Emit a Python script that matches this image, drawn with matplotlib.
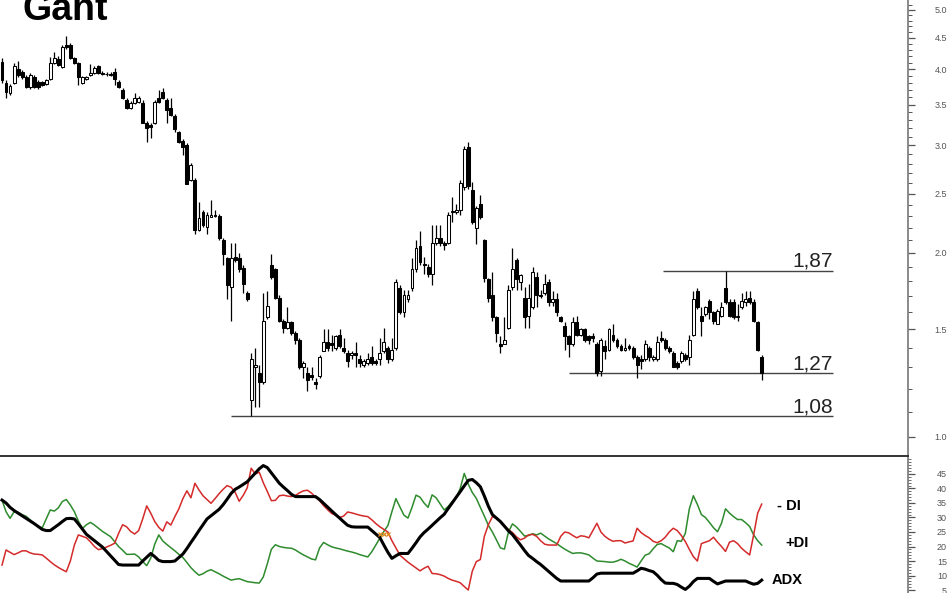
import matplotlib
matplotlib.use('Agg')
import matplotlib.pyplot as plt
import numpy as np
from matplotlib.ticker import FixedLocator, FuncFormatter, NullFormatter

plt.rcParams['font.family'] = ['Liberation Sans', 'DejaVu Sans']

title = 'Gant'

opens = [
    4.11, 3.80, 3.66, 3.80, 4.00, 3.95, 3.88, 3.74, 3.88, 3.81,
    3.81, 3.78, 3.85, 4.09, 4.15, 4.03, 4.38, 4.38, 4.17, 4.09,
    3.79, 3.85, 3.91, 3.94, 4.05, 3.94, 3.92, 3.92, 3.95, 3.81,
    3.70, 3.56, 3.45, 3.52, 3.54, 3.52, 3.26, 3.24, 3.27, 3.59,
    3.67, 3.56, 3.45, 3.35, 3.15, 3.05, 3.00, 2.63, 2.63, 2.18,
    2.33, 2.21, 2.29, 2.31, 2.30, 2.10, 1.96, 1.76, 1.97, 1.96,
    1.89, 1.72, 1.15, 1.30, 1.27, 1.23, 1.57, 1.91, 1.88, 1.69,
    1.55, 1.51, 1.54, 1.48, 1.44, 1.30, 1.27, 1.265, 1.23, 1.26,
    1.38, 1.43, 1.425, 1.40, 1.47, 1.40, 1.37, 1.36, 1.37, 1.34,
    1.31, 1.32, 1.35, 1.33, 1.34, 1.38, 1.40, 1.34, 1.40, 1.75,
    1.60, 1.68, 1.75, 1.88, 2.05, 1.92, 1.90, 1.85, 2.08, 2.12,
    2.08, 2.08, 2.335, 2.33, 2.35, 2.56, 2.98, 2.54, 2.20, 2.41,
    2.10, 1.81, 1.71, 1.57, 1.42, 1.42, 1.51, 1.76, 1.95, 1.79,
    1.69, 1.58, 1.63, 1.83, 1.71, 1.72, 1.79, 1.66, 1.68, 1.57,
    1.52, 1.46, 1.42, 1.54, 1.47, 1.50, 1.46, 1.46, 1.42, 1.28,
    1.41, 1.39, 1.47, 1.44, 1.41, 1.39, 1.41, 1.40, 1.35, 1.34,
    1.34, 1.40, 1.34, 1.34, 1.45, 1.44, 1.40, 1.37, 1.32, 1.33,
    1.36, 1.35, 1.47, 1.73, 1.58, 1.59, 1.67, 1.60, 1.53, 1.58,
    1.75, 1.66, 1.66, 1.57, 1.63, 1.66, 1.69, 1.66, 1.54, 1.35,
]
highs = [
    4.17, 3.84, 3.78, 4.09, 4.12, 3.98, 3.91, 3.94, 3.91, 3.84,
    3.82, 3.85, 4.19, 4.26, 4.20, 4.38, 4.53, 4.41, 4.19, 4.11,
    3.89, 3.89, 4.08, 4.05, 4.06, 3.97, 3.95, 3.95, 4.01, 3.84,
    3.72, 3.59, 3.55, 3.65, 3.61, 3.56, 3.29, 3.26, 3.56, 3.70,
    3.72, 3.59, 3.59, 3.38, 3.17, 3.07, 3.03, 2.81, 2.65, 2.42,
    2.35, 2.33, 2.44, 2.35, 2.32, 2.12, 1.97, 2.08, 2.08, 2.00,
    1.91, 1.73, 1.37, 1.40, 1.31, 1.72, 1.73, 1.99, 1.89, 1.71,
    1.56, 1.63, 1.55, 1.49, 1.45, 1.33, 1.30, 1.30, 1.25, 1.36,
    1.50, 1.50, 1.47, 1.47, 1.50, 1.45, 1.39, 1.38, 1.43, 1.36,
    1.34, 1.37, 1.41, 1.34, 1.45, 1.51, 1.41, 1.45, 1.81, 1.77,
    1.74, 1.74, 1.96, 2.10, 2.17, 1.97, 1.92, 2.22, 2.22, 2.22,
    2.09, 2.33, 2.47, 2.41, 2.63, 2.99, 3.04, 2.61, 2.39, 2.49,
    2.11, 1.82, 1.86, 1.58, 1.46, 1.57, 1.77, 2.04, 1.96, 1.85,
    1.76, 1.78, 1.90, 1.86, 1.74, 1.85, 1.81, 1.73, 1.72, 1.58,
    1.54, 1.47, 1.57, 1.58, 1.51, 1.51, 1.47, 1.48, 1.43, 1.45,
    1.44, 1.51, 1.53, 1.45, 1.42, 1.45, 1.42, 1.41, 1.36, 1.36,
    1.44, 1.41, 1.36, 1.46, 1.49, 1.45, 1.41, 1.38, 1.33, 1.38,
    1.37, 1.47, 1.73, 1.75, 1.63, 1.64, 1.68, 1.61, 1.62, 1.66,
    1.87, 1.68, 1.68, 1.65, 1.72, 1.73, 1.73, 1.68, 1.55, 1.36,
]
lows = [
    3.79, 3.59, 3.63, 3.78, 3.88, 3.85, 3.72, 3.71, 3.72, 3.71,
    3.75, 3.77, 3.84, 4.08, 4.05, 4.01, 4.31, 4.15, 4.08, 3.77,
    3.78, 3.84, 3.89, 3.92, 3.92, 3.91, 3.89, 3.89, 3.77, 3.72,
    3.57, 3.44, 3.44, 3.51, 3.52, 3.26, 3.04, 3.09, 3.25, 3.52,
    3.57, 3.27, 3.35, 3.16, 3.03, 2.89, 2.59, 2.62, 2.15, 2.17,
    2.21, 2.15, 2.29, 2.29, 2.10, 1.91, 1.68, 1.55, 1.93, 1.86,
    1.72, 1.67, 1.08, 1.12, 1.12, 1.22, 1.56, 1.81, 1.68, 1.54,
    1.48, 1.50, 1.47, 1.42, 1.29, 1.25, 1.19, 1.24, 1.20, 1.25,
    1.38, 1.38, 1.38, 1.39, 1.40, 1.37, 1.30, 1.34, 1.30, 1.30,
    1.30, 1.31, 1.31, 1.31, 1.31, 1.37, 1.32, 1.33, 1.39, 1.59,
    1.57, 1.66, 1.73, 1.86, 1.91, 1.85, 1.83, 1.77, 2.06, 2.05,
    2.02, 2.07, 2.25, 2.32, 2.31, 2.54, 2.55, 2.23, 2.07, 2.27,
    1.79, 1.66, 1.55, 1.43, 1.37, 1.42, 1.50, 1.74, 1.74, 1.74,
    1.51, 1.51, 1.62, 1.63, 1.69, 1.71, 1.64, 1.64, 1.58, 1.54,
    1.39, 1.35, 1.41, 1.46, 1.46, 1.43, 1.42, 1.43, 1.26, 1.26,
    1.34, 1.38, 1.43, 1.40, 1.38, 1.38, 1.39, 1.34, 1.25, 1.29,
    1.33, 1.33, 1.33, 1.33, 1.43, 1.39, 1.37, 1.30, 1.29, 1.32,
    1.33, 1.31, 1.46, 1.62, 1.46, 1.58, 1.56, 1.53, 1.53, 1.57,
    1.65, 1.57, 1.56, 1.55, 1.62, 1.64, 1.65, 1.54, 1.38, 1.24,
]
closes = [
    3.84, 3.67, 3.75, 4.05, 3.91, 3.88, 3.74, 3.91, 3.74, 3.74,
    3.77, 3.84, 4.09, 4.17, 4.06, 4.34, 4.34, 4.17, 4.09, 3.88,
    3.88, 3.88, 3.94, 4.01, 3.94, 3.93, 3.92, 3.91, 3.86, 3.74,
    3.59, 3.45, 3.52, 3.59, 3.59, 3.27, 3.20, 3.21, 3.54, 3.54,
    3.59, 3.43, 3.36, 3.19, 3.04, 2.98, 2.59, 2.79, 2.18, 2.28,
    2.22, 2.31, 2.31, 2.30, 2.12, 1.99, 1.77, 1.96, 1.95, 1.88,
    1.78, 1.68, 1.34, 1.31, 1.23, 1.55, 1.64, 1.83, 1.69, 1.55,
    1.51, 1.54, 1.48, 1.44, 1.30, 1.32, 1.24, 1.255, 1.22, 1.35,
    1.43, 1.40, 1.415, 1.46, 1.41, 1.38, 1.33, 1.37, 1.36, 1.32,
    1.33, 1.34, 1.32, 1.32, 1.37, 1.43, 1.34, 1.39, 1.79, 1.60,
    1.71, 1.71, 1.88, 2.04, 1.93, 1.91, 1.85, 2.08, 2.12, 2.08,
    2.06, 2.31, 2.345, 2.35, 2.60, 2.96, 2.57, 2.25, 2.37, 2.29,
    1.82, 1.69, 1.57, 1.48, 1.41, 1.44, 1.74, 1.88, 1.81, 1.84,
    1.57, 1.69, 1.86, 1.71, 1.70, 1.78, 1.66, 1.68, 1.60, 1.55,
    1.46, 1.42, 1.54, 1.47, 1.50, 1.44, 1.44, 1.45, 1.27, 1.44,
    1.38, 1.50, 1.44, 1.41, 1.39, 1.40, 1.40, 1.35, 1.31, 1.33,
    1.42, 1.35, 1.35, 1.43, 1.44, 1.40, 1.38, 1.30, 1.30, 1.37,
    1.34, 1.44, 1.68, 1.63, 1.55, 1.63, 1.60, 1.55, 1.61, 1.63,
    1.66, 1.58, 1.57, 1.58, 1.67, 1.68, 1.66, 1.55, 1.39, 1.27,
]

adx = [
    36.0, 35.0, 33.5, 32.4, 31.5, 30.6, 29.7, 28.8, 27.9, 26.9,
    25.9, 25.5, 25.5, 26.5, 27.5, 28.6, 29.6, 29.7, 29.5, 27.8,
    26.0, 24.2, 23.1, 22.0, 20.9, 19.8, 18.3, 16.8, 15.3, 13.8,
    13.6, 13.6, 13.6, 13.6, 13.6, 15.0, 16.3, 17.6, 16.5, 15.2,
    14.8, 14.8, 14.8, 15.0, 16.2, 17.4, 19.3, 21.4, 23.4, 25.5,
    27.5, 29.5, 30.6, 31.7, 32.8, 34.4, 36.3, 38.3, 39.7, 40.5,
    41.4, 42.3, 43.8, 45.3, 46.8, 47.9, 47.2, 45.4, 43.6, 41.8,
    40.5, 39.3, 38.0, 37.2, 37.2, 37.2, 37.2, 37.2, 37.2, 36.2,
    34.9, 33.6, 32.3, 31.0, 29.8, 28.5, 27.3, 26.8, 26.7, 26.7,
    26.7, 26.7, 25.5, 24.3, 23.1, 20.5, 18.0, 15.9, 16.8, 17.6,
    17.6, 17.6, 19.4, 21.3, 23.3, 24.8, 26.0, 27.3, 28.6, 29.9,
    31.1, 33.1, 35.0, 37.0, 38.9, 40.9, 42.8, 43.1, 42.0, 40.6,
    37.4, 33.9, 31.0, 29.8, 28.6, 27.0, 25.4, 24.1, 22.3, 20.5,
    18.6, 16.9, 15.9, 14.8, 13.8, 12.6, 11.4, 10.2, 9.0, 8.1,
    8.1, 8.1, 8.1, 8.1, 8.1, 8.1, 8.1, 9.2, 10.5, 10.8,
    10.8, 10.8, 10.8, 10.8, 10.8, 10.8, 10.8, 10.8, 11.6, 12.5,
    12.2, 11.7, 11.3, 10.1, 8.6, 7.4, 7.3, 7.3, 6.9, 6.0,
    5.2, 6.3, 7.9, 9.0, 9.0, 9.0, 9.0, 8.0, 7.1, 7.6,
    8.1, 8.1, 8.1, 8.1, 8.1, 8.1, 7.5, 7.0, 7.3, 8.4,
]
minus_di = [
    13.6, 18.8, 18.0, 17.2, 17.8, 18.5, 18.5, 17.8, 17.4, 17.3,
    17.1, 16.0, 14.8, 13.7, 12.8, 12.0, 11.3, 15.0, 20.5, 24.0,
    23.5, 23.0, 21.6, 20.0, 18.9, 19.3, 19.8, 20.4, 21.1, 24.5,
    27.5, 26.8, 25.2, 24.3, 25.5, 29.5, 34.0, 31.5, 28.6, 26.6,
    25.3, 28.5, 27.4, 30.3, 33.0, 36.5, 39.2, 36.8, 41.8, 39.5,
    37.5, 36.2, 34.9, 36.5, 38.2, 39.7, 41.0, 40.4, 38.7, 35.6,
    37.6, 40.2, 47.0, 45.0, 45.6, 42.0, 39.0, 35.8, 35.9, 37.5,
    37.7, 37.4, 37.2, 37.6, 38.5, 39.2, 39.4, 38.4, 37.0, 35.8,
    34.1, 32.7, 31.4, 30.8, 30.0, 30.5, 31.9, 31.6, 31.2, 30.8,
    30.5, 30.3, 29.2, 27.9, 26.8, 25.9, 25.0, 22.0, 19.5, 17.0,
    15.8, 14.6, 13.6, 12.6, 11.6, 12.5, 13.2, 10.7, 10.6, 10.3,
    9.8, 9.0, 8.4, 8.0, 7.5, 6.2, 5.0, 11.5, 14.8, 15.5,
    23.5, 27.5, 30.3, 29.8, 28.5, 27.0, 25.8, 24.8, 23.3, 22.3,
    22.9, 24.0, 24.2, 23.5, 22.0, 20.8, 20.5, 20.5, 20.5, 23.5,
    25.0, 24.7, 23.8, 23.0, 23.7, 23.5, 23.0, 25.5, 28.0, 25.0,
    23.5, 22.5, 21.8, 22.0, 22.0, 21.2, 21.6, 21.9, 26.3, 24.8,
    23.8, 23.0, 21.8, 21.3, 22.0, 23.2, 25.0, 26.3, 25.5, 23.8,
    21.7, 19.0, 16.5, 15.0, 21.0, 21.5, 22.0, 23.2, 21.5, 20.0,
    18.3, 21.5, 22.0, 21.0, 19.4, 18.2, 17.1, 24.0, 31.5, 34.6,
]
plus_di = [
    36.0, 32.0, 29.7, 32.0, 31.8, 31.0, 30.4, 29.2, 28.0, 27.0,
    26.4, 29.5, 32.6, 32.2, 33.3, 35.5, 36.2, 34.3, 32.0, 28.8,
    26.2, 27.5, 28.3, 27.4, 26.3, 25.2, 24.3, 23.4, 21.7, 20.0,
    18.7, 17.3, 17.3, 17.4, 16.4, 14.8, 13.4, 16.0, 20.8, 24.0,
    21.9, 20.7, 19.6, 18.5, 17.3, 16.2, 14.5, 12.7, 11.3, 10.1,
    10.6, 11.5, 12.0, 11.3, 10.6, 9.8, 9.1, 8.4, 8.7, 8.9,
    8.4, 7.9, 7.7, 7.5, 7.4, 9.5, 14.0, 19.0, 20.6, 20.0,
    19.7, 19.5, 19.4, 18.8, 17.9, 17.1, 16.4, 15.7, 15.4, 19.5,
    21.4, 20.6, 19.9, 19.5, 19.2, 18.8, 18.4, 18.1, 17.7, 17.2,
    16.8, 16.4, 18.2, 20.5, 22.9, 25.2, 27.2, 32.0, 36.5, 33.6,
    30.8, 29.8, 33.5, 37.7, 37.0, 35.0, 33.5, 37.8, 36.8, 34.7,
    32.6, 33.8, 35.5, 36.8, 40.0, 45.2, 41.5, 38.6, 36.6, 33.5,
    30.5, 27.3, 25.0, 22.3, 19.5, 19.1, 25.0, 27.8, 26.7, 25.2,
    23.6, 23.8, 24.4, 24.0, 24.6, 23.6, 22.6, 21.8, 21.0, 20.0,
    19.1, 18.3, 17.6, 17.8, 17.8, 17.5, 17.1, 16.0, 15.0, 14.9,
    14.8, 14.6, 14.6, 15.0, 15.6, 15.0, 14.2, 13.6, 12.9, 15.0,
    17.0, 17.5, 19.2, 20.7, 21.0, 20.2, 19.5, 18.2, 22.0, 21.8,
    24.5, 33.0, 37.5, 34.5, 31.0, 30.0, 28.3, 26.5, 25.1, 28.0,
    33.0, 31.5, 30.3, 29.3, 29.3, 28.2, 26.9, 24.0, 22.0, 20.5,
]

cross_idx = [94, 95, 96]
cross_val = [24.4, 24.4, 24.4]

level_values = [1.87, 1.27, 1.08]
level_labels = ['1,87', '1,27', '1,08']
level_starts = [164.5, 141.0, 57.0]
level_end = 206.7

price_ticks = [1.0, 1.5, 2.0, 2.5, 3.0, 3.5, 4.0, 4.5, 5.0]
adx_ticks = [5, 10, 15, 20, 25, 30, 35, 40, 45]
line_names = ['- DI', '+DI', 'ADX']

W, H = 948, 593
fig = plt.figure(figsize=(W / 100, H / 100), dpi=100)
ax = fig.add_axes([0, 138 / H, 908 / W, 455 / H])
ax2 = fig.add_axes([0, 0, 908 / W, 137 / H])

o = np.array(opens)
h = np.array(highs)
l = np.array(lows)
c = np.array(closes)
n = len(c)
idx = np.arange(n)

ax.set_yscale('log')
ax.set_ylim(0.934, 5.19)
xl = (-0.5, 225.4)
ax.set_xlim(*xl)
ax2.set_xlim(*xl)

ax.vlines(idx, l, h, color='black', linewidth=0.9, zorder=2)
bot = np.minimum(o, c)
top = np.maximum(o, c)
hgt = np.maximum(top - bot, 0.004)
up = c > o
ax.bar(idx[up], hgt[up], bottom=bot[up], width=0.72, facecolor='white',
       edgecolor='black', linewidth=0.75, zorder=3)
ax.bar(idx[~up], hgt[~up], bottom=bot[~up], width=0.72, facecolor='black',
       edgecolor='black', linewidth=0.75, zorder=3)

for v, lab, s in zip(level_values, level_labels, level_starts):
    ax.hlines(v, s, level_end, color='#444444', linewidth=1.0, zorder=1)
    ax.text(level_end, v * np.exp(4 / 265.5), lab, ha='right', va='baseline',
            fontsize=15, color='#222222')

fig.text(22 / W, 1 - 20 / H, title, fontsize=27, fontweight='bold',
         va='baseline', ha='left', color='black')

# price axis
for sp in ['top', 'left', 'bottom']:
    ax.spines[sp].set_visible(False)
ax.spines['right'].set_color('#777777')
ax.spines['right'].set_linewidth(1.2)
ax.set_xticks([])
ax.yaxis.tick_right()
ax.yaxis.set_major_locator(FixedLocator(price_ticks))
ax.yaxis.set_major_formatter(FuncFormatter(lambda v, p: f'{v:.1f}'))
ax.yaxis.set_minor_locator(FixedLocator(np.round(np.arange(1.0, 5.25, 0.1), 2)))
ax.yaxis.set_minor_formatter(NullFormatter())
ax.tick_params(axis='y', which='major', length=5, width=0.9, color='#555555',
               labelsize=6.5, labelcolor='#555555', pad=23)
ax.tick_params(axis='y', which='minor', length=3, width=0.7, color='#555555')
for t in ax.yaxis.get_major_ticks(len(price_ticks)):
    t.label2.set_horizontalalignment('right')

# indicator panel
ax2.plot(idx, plus_di, color='#2e8b2e', linewidth=1.1, zorder=2)
ax2.plot(idx, minus_di, color='#d42a2a', linewidth=1.1, zorder=2)
ax2.plot(idx, adx, color='black', linewidth=2.2, zorder=3)
ax2.plot(cross_idx, cross_val, linestyle='none', marker='x', markersize=3.5,
         markeredgewidth=0.9, color='#e08a1e', zorder=4)
ax2.set_ylim(3.97, 51.2)
for sp in ['left', 'bottom']:
    ax2.spines[sp].set_visible(False)
ax2.spines['top'].set_color('#333333')
ax2.spines['top'].set_linewidth(1.4)
ax2.spines['right'].set_color('#777777')
ax2.spines['right'].set_linewidth(1.2)
ax2.set_xticks([])
ax2.yaxis.tick_right()
ax2.yaxis.set_major_locator(FixedLocator(adx_ticks))
ax2.yaxis.set_minor_locator(FixedLocator(np.arange(4, 51, 1)))
ax2.yaxis.set_minor_formatter(NullFormatter())
ax2.tick_params(axis='y', which='major', length=5, width=0.9, color='#555555',
                labelsize=6.5, labelcolor='#555555', pad=23)
ax2.tick_params(axis='y', which='minor', length=2.5, width=0.6, color='#555555')
for t in ax2.yaxis.get_major_ticks(len(adx_ticks)):
    t.label2.set_horizontalalignment('right')

label_x = [192.8, 194.8, 191.5]
label_y = [34.0, 21.2, 8.4]
for name, x, y in zip(line_names, label_x, label_y):
    ax2.text(x, y, name, fontsize=10.5, fontweight='bold', va='center',
             ha='left', color='black')

fig.savefig('out.png', dpi=100)
